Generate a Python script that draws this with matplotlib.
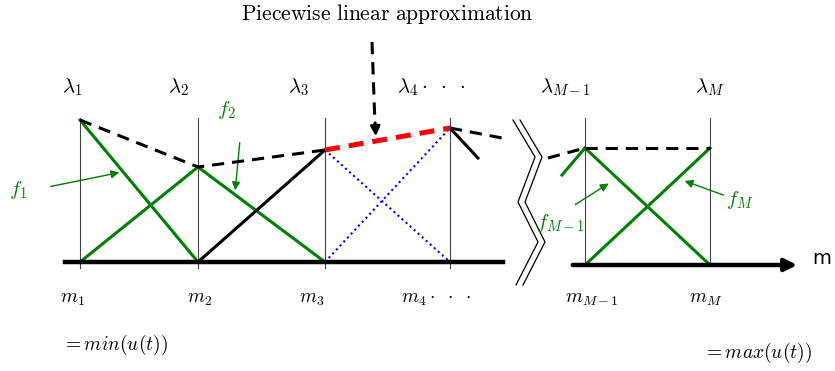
import matplotlib.pyplot as plt

plt.rcParams["mathtext.fontset"] = "cm"

# knot positions (px along the m axis) and approximation heights (px, y down)
knot_x = [80, 198, 325, 450, 585, 710]
approx_y = [120, 167, 150, 128, 148, 148]
base_left = 262
base_right = 265
knot_top = 118

lambda_labels = [r"$\lambda_1$", r"$\lambda_2$", r"$\lambda_3$", r"$\lambda_4 \cdot\ \cdot\ \cdot$",
                 r"$\lambda_{M-1}$", r"$\lambda_M$"]
lambda_x = [72, 178, 298, 397, 565, 710]
m_labels = [r"$m_1$", r"$m_2$", r"$m_3$", r"$m_4 \cdot\ \cdot\ \cdot$", r"$m_{M-1}$", r"$m_M$"]
m_x = [72, 200, 312, 401, 592, 706]

GREEN = "#008000"

fig = plt.figure(figsize=(8.35, 3.71), dpi=100)
ax = fig.add_axes([0, 0, 1, 1])
ax.set_xlim(0, 835)
ax.set_ylim(371, 0)
ax.axis("off")

# thin vertical lines at knots
for i, x in enumerate(knot_x):
    bottom = base_left + 6 if i < 4 else base_right
    ax.plot([x, x], [knot_top, bottom], color="#444444", lw=0.8, zorder=1)

# axes
ax.plot([65, 503], [base_left, base_left], color="black", lw=3.2, zorder=3)
ax.annotate("", xy=(800, base_right), xytext=(570, base_right),
            arrowprops=dict(arrowstyle="-|>", color="black", lw=3.2, mutation_scale=18))
ax.text(812, 258, "m", fontsize=14, ha="left", va="center", family="DejaVu Sans")

# hat functions
x1, x2, x3, x4, x5, x6 = knot_x
y1, y2, y3, y4, y5, y6 = approx_y
ax.plot([x1, x2], [y1, base_left], color=GREEN, lw=2.2, zorder=2)
ax.plot([x1, x2, x3], [base_left, y2, base_left], color=GREEN, lw=2.2, zorder=2)
ax.plot([x2, x3], [base_left, y3], color="black", lw=2.2, zorder=2)
ax.plot([x3, x4], [y3, base_left], color="blue", lw=1.5, ls=(0, (1, 1.6)), zorder=2)
ax.plot([x3, x4], [base_left, y4], color="blue", lw=1.5, ls=(0, (1, 1.6)), zorder=2)
ax.plot([x4, x4 + 28], [y4, y4 + 30], color="black", lw=2.2, zorder=2)
ax.plot([x5 - 23, x5], [y5 + 27, y5], color=GREEN, lw=2.2, zorder=2)
ax.plot([x5, x6], [y5, base_right], color=GREEN, lw=2.2, zorder=2)
ax.plot([x5, x6], [base_right, y6], color=GREEN, lw=2.2, zorder=2)

# piecewise linear approximation
dash = (0, (4, 2.6))
ax.plot([x1, x2, x3], [y1, y2, y3], color="black", lw=2.2, ls=dash, zorder=4)
ax.plot([x3, x4], [y3, y4], color="red", lw=3.6, ls=(0, (3, 1.8)), zorder=4)
ax.plot([x4, 502], [y4, 138], color="black", lw=2.2, ls=dash, zorder=4)
ax.plot([548, x5], [158, y5], color="black", lw=2.2, ls=dash, zorder=4)
ax.plot([x5, x6], [y5, y6], color="black", lw=2.2, ls=dash, zorder=4)

# axis break
zig_x = [513, 535, 518, 538, 516]
zig_y = [120, 157, 202, 242, 285]
for off in (0, 7):
    ax.plot([v + off for v in zig_x], zig_y, color="black", lw=0.9)

# title arrow
ax.plot([372, 375], [42, 125], color="black", lw=2.2, ls=dash)
ax.annotate("", xy=(376, 139), xytext=(375, 120),
            arrowprops=dict(arrowstyle="-|>", color="black", lw=2.0, mutation_scale=14))
ax.text(387, 14, r"$\mathrm{Piecewise\ linear\ approximation}$", fontsize=15.5,
        ha="center", va="center")

# function labels
arrow_kw = dict(arrowstyle="-|>", color=GREEN, lw=1.0, mutation_scale=12)
ax.annotate("", xy=(122, 172), xytext=(48, 187), arrowprops=arrow_kw)
ax.text(18, 190, r"$f_1$", color=GREEN, fontsize=15, ha="center", va="center")
ax.annotate("", xy=(235, 193), xytext=(240, 140), arrowprops=arrow_kw)
ax.text(226, 110, r"$f_2$", color=GREEN, fontsize=15, ha="center", va="center")
ax.annotate("", xy=(611, 182), xytext=(573, 206), arrowprops=arrow_kw)
ax.text(560, 223, r"$f_{M-1}$", color=GREEN, fontsize=15, ha="center", va="center")
ax.annotate("", xy=(682, 180), xytext=(726, 196), arrowprops=arrow_kw)
ax.text(740, 200, r"$f_M$", color=GREEN, fontsize=15, ha="center", va="center")

for lab, x in zip(lambda_labels, lambda_x):
    ax.text(x, 87, lab, fontsize=15, ha="left" if "cdot" in lab else "center", va="center")
for lab, x in zip(m_labels, m_x):
    ax.text(x, 298, lab, fontsize=14, ha="left" if "cdot" in lab else "center", va="center")

ax.text(115, 345, r"$= min(u(t))$", fontsize=14, ha="center", va="center")
ax.text(757, 353, r"$= max(u(t))$", fontsize=14, ha="center", va="center")

fig.savefig("out.png", dpi=100)
